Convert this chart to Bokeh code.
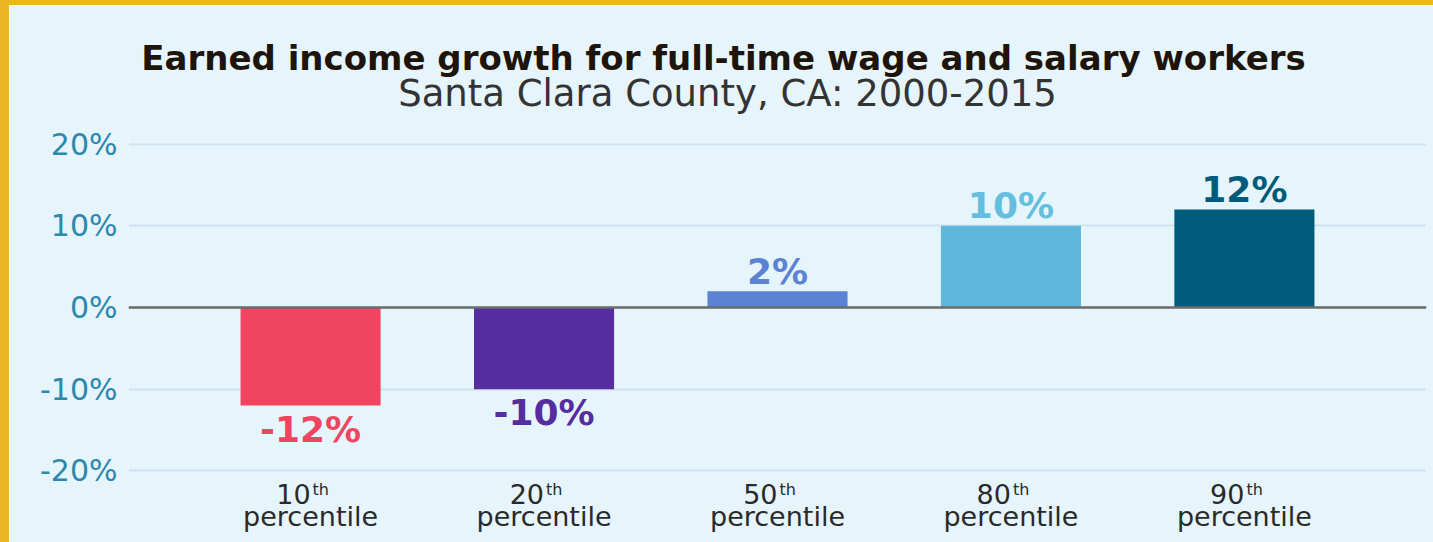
from bokeh.plotting import figure
from bokeh.layouts import column, row
from bokeh.models import (ColumnDataSource, FactorRange, Range1d, FixedTicker, PrintfTickFormatter,
                          Span, Label, Div)
from bokeh.core.properties import value
from bokeh.embed import file_html
from bokeh.resources import INLINE

categories = ["10th", "20th", "50th", "80th", "90th"]
numbers = ["10", "20", "50", "80", "90"]
growth = [-12, -10, 2, 10, 12]
growth_labels = ["-12%", "-10%", "2%", "10%", "12%"]
bar_colors = ["#EF4560", "#552DA0", "#5B83D3", "#5FB8DB", "#005B7A"]
label_colors = ["#EF4560", "#552DA0", "#5B83D3", "#64BEDF", "#005B7A"]
y_ticks = [-20, -10, 0, 10, 20]

BG = "#E6F4FB"
GOLD = "#EDB526"
WIDE = "DejaVu Sans"

lab_y = [v + (2.45 if v > 0 else -2.9) for v in growth]
src = ColumnDataSource(dict(cat=categories, num=numbers, v=growth, lab=growth_labels,
                            col=bar_colors, lcol=label_colors, ly=lab_y,
                            numy=[-22.8] * 5, thy=[-22.3] * 5, py=[-25.6] * 5,
                            th=["th"] * 5, pc=["percentile"] * 5))

fig = figure(width=1424, height=537, x_range=FactorRange(*categories, range_padding=0.28 * 2 / 5),
             y_range=Range1d(-28.76, 36.96), output_backend="svg", toolbar_location=None,
             min_border_left=119, min_border_right=7, min_border_top=0, min_border_bottom=0)
fig.x_range.range_padding_units = "percent"
fig.background_fill_color = BG
fig.border_fill_color = BG
fig.outline_line_color = None
fig.xaxis.visible = False
fig.xgrid.grid_line_color = None
fig.ygrid.grid_line_color = "#CFE2EF"
fig.ygrid.grid_line_width = 2

ya = fig.yaxis[0]
ya.ticker = FixedTicker(ticks=y_ticks)
ya.formatter = PrintfTickFormatter(format="%d%%")
ya.axis_line_color = None
ya.major_tick_line_color = None
ya.minor_tick_line_color = None
ya.major_label_text_font = WIDE
ya.major_label_text_font_size = "30px"
ya.major_label_text_color = "#2C88AE"
ya.major_label_standoff = 5

fig.vbar(x="cat", top="v", bottom=0, width=0.6, fill_color="col", line_color=None, source=src)
fig.add_layout(Span(location=0, dimension="width", line_color="#6B6B6B", line_width=2.5))

fig.text(x="cat", y="ly", text="lab", text_color="lcol", text_font=value(WIDE), text_font_style="bold",
         text_font_size="36px", text_align="center", text_baseline="middle", source=src)
fig.text(x="cat", y="numy", text="num", text_color="#2A2A2A", text_font=value(WIDE),
         text_font_size="27px", text_align="right", text_baseline="middle", x_offset=0, source=src)
fig.text(x="cat", y="thy", text="th", text_color="#2A2A2A", text_font=value(WIDE),
         text_font_size="16px", text_align="left", text_baseline="middle", x_offset=2, source=src)
fig.text(x="cat", y="py", text="pc", text_color="#2A2A2A", text_font=value(WIDE),
         text_font_size="27px", text_align="center", text_baseline="middle", source=src)

fig.add_layout(Label(x=595, y=485, x_units="screen", y_units="screen",
                     text="Earned income growth for full-time wage and salary workers",
                     text_font=WIDE, text_font_style="bold", text_font_size="34px",
                     text_color="#1E140A", text_align="center", text_baseline="middle"))
fig.add_layout(Label(x=599, y=449, x_units="screen", y_units="screen",
                     text="Santa Clara County, CA: 2000-2015",
                     text_font=WIDE, text_font_size="37px",
                     text_color="#333333", text_align="center", text_baseline="middle"))

top_strip = Div(text="", width=1433, height=5, styles={"background-color": GOLD}, margin=0)
left_strip = Div(text="", width=9, height=537, styles={"background-color": GOLD}, margin=0)
p = column(top_strip, row(left_strip, fig, spacing=0, margin=0), spacing=0, margin=0)

open("out.html", "w").write(file_html(p, INLINE))
